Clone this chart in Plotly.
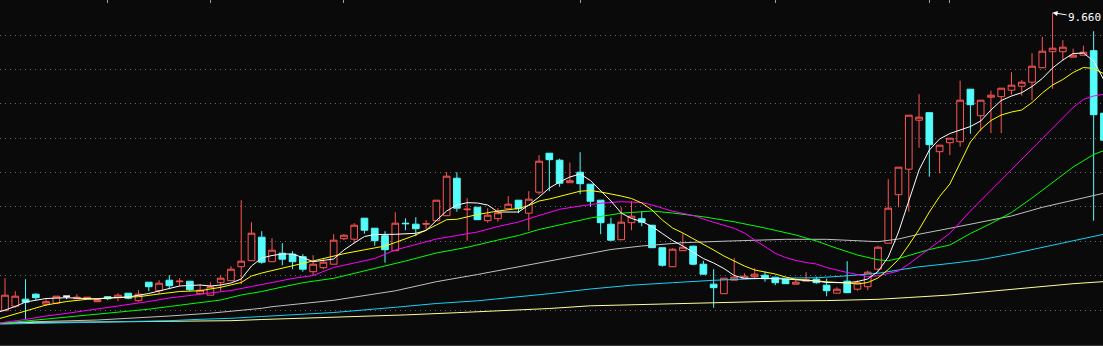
import plotly.graph_objects as go

# ---------------- data ----------------
days = list(range(108))  # trading-day index
opens = [3.70, 3.79, 3.93, 4.03, 3.83, 3.85, 3.99, 3.94, 3.94, 3.88,
         3.98, 3.96, 4.05, 3.90, 4.27, 4.10, 4.31, 4.28, 4.29, 4.04,
         4.01, 4.26, 4.30, 4.58, 4.70, 5.17, 4.68, 4.85, 4.83, 4.78,
         4.48, 4.56, 4.63, 5.14, 5.13, 5.55, 5.35, 5.20, 4.90, 5.45,
         5.43, 5.43, 5.50, 5.60, 6.35, 5.72, 5.77, 5.50, 5.54, 5.74,
         5.91, 5.65, 6.07, 6.85, 6.71, 6.26, 6.47, 6.23, 5.91, 5.43,
         5.12, 5.46, 5.54, 5.41, 4.96, 4.58, 4.90, 4.99, 4.63, 4.23,
         4.04, 4.31, 4.34, 4.38, 4.41, 4.37, 4.33, 4.23, 4.29, 4.33,
         4.21, 4.05, 4.29, 4.13, 4.18, 4.53, 5.05, 6.02, 6.53, 7.51,
         7.66, 6.88, 7.06, 7.08, 8.13, 7.60, 7.97, 7.98, 8.11, 8.19,
         8.27, 8.56, 8.88, 8.88, 8.77, 8.81, 8.90, 7.65]
highs = [4.35, 4.09, 4.33, 4.05, 3.93, 3.99, 3.99, 4.03, 3.97, 3.94,
         3.99, 4.05, 4.05, 4.11, 4.27, 4.31, 4.41, 4.35, 4.29, 4.23,
         4.27, 4.41, 4.59, 5.91, 5.47, 5.29, 5.15, 5.05, 4.89, 4.83,
         4.81, 4.73, 5.23, 5.23, 5.45, 5.55, 5.35, 5.29, 5.67, 5.55,
         5.57, 5.51, 5.91, 6.47, 6.47, 5.95, 5.77, 5.75, 5.75, 5.99,
         5.91, 6.09, 6.81, 6.85, 6.74, 6.66, 6.87, 6.23, 5.91, 5.56,
         5.77, 5.89, 5.69, 5.41, 4.96, 4.95, 5.25, 5.00, 4.70, 4.53,
         4.35, 4.75, 4.45, 4.55, 4.48, 4.37, 4.33, 4.31, 4.47, 4.38,
         4.34, 4.17, 4.69, 4.31, 4.50, 5.00, 6.33, 6.57, 7.61, 8.03,
         7.66, 7.01, 7.15, 8.30, 8.13, 7.91, 8.10, 8.15, 8.47, 8.31,
         8.85, 9.18, 9.66, 9.11, 8.94, 9.00, 9.29, 7.65]
lows = [3.70, 3.76, 3.53, 3.91, 3.79, 3.85, 3.93, 3.94, 3.94, 3.87,
        3.91, 3.89, 3.93, 3.88, 4.09, 4.03, 4.13, 4.19, 4.09, 4.04,
        4.01, 4.09, 4.30, 4.23, 4.70, 4.64, 4.68, 4.61, 4.53, 4.48,
        4.41, 4.53, 4.63, 5.11, 5.05, 5.24, 5.00, 4.66, 4.90, 5.31,
        5.19, 5.33, 5.50, 5.60, 5.68, 5.10, 5.52, 5.46, 5.48, 5.74,
        5.65, 5.30, 6.02, 6.09, 6.18, 6.26, 6.03, 5.78, 5.23, 5.10,
        5.12, 5.31, 5.39, 4.96, 4.58, 4.58, 4.90, 4.61, 4.43, 3.76,
        4.04, 4.31, 4.34, 4.33, 4.28, 4.21, 4.24, 4.23, 4.29, 4.24,
        3.99, 4.05, 4.06, 4.10, 4.11, 4.47, 5.05, 5.77, 5.68, 6.96,
        6.38, 6.45, 6.81, 6.98, 7.24, 7.29, 7.25, 7.25, 8.02, 8.00,
        7.91, 8.55, 8.14, 8.70, 8.77, 8.81, 5.50, 7.11]
closes = [4.01, 3.99, 3.87, 3.96, 3.88, 3.99, 3.99, 3.97, 3.97, 3.92,
          3.94, 4.01, 3.95, 4.03, 4.18, 4.25, 4.20, 4.29, 4.12, 4.11,
          4.18, 4.35, 4.53, 4.69, 5.25, 4.67, 4.91, 4.73, 4.68, 4.53,
          4.63, 4.67, 5.11, 5.21, 5.41, 5.31, 5.10, 4.92, 5.45, 5.44,
          5.34, 5.44, 5.91, 6.39, 5.75, 5.73, 5.52, 5.61, 5.66, 5.83,
          5.74, 5.93, 6.69, 6.72, 6.25, 6.30, 6.24, 5.89, 5.46, 5.11,
          5.47, 5.59, 5.47, 4.96, 4.61, 4.93, 4.97, 4.63, 4.43, 4.16,
          4.35, 4.37, 4.39, 4.43, 4.34, 4.26, 4.24, 4.27, 4.32, 4.26,
          4.10, 4.13, 4.06, 4.26, 4.47, 4.97, 5.75, 6.57, 7.61, 7.57,
          7.02, 7.01, 7.15, 7.91, 7.82, 7.91, 8.01, 8.15, 8.21, 8.27,
          8.59, 8.89, 8.95, 8.97, 8.81, 8.87, 7.62, 7.11]

# moving-average lines, (day index, value)
ma5_pts = [(-1, 3.644), (0, 3.714), (1, 3.784), (2, 3.874), (3, 3.914), (4, 3.944),
           (6, 3.960), (9, 3.934), (10, 3.954), (12, 3.974), (14, 4.044), (16, 4.134),
           (17, 4.194), (19, 4.214), (20, 4.194), (21, 4.214), (22, 4.254), (23, 4.334),
           (24, 4.594), (25, 4.754), (26, 4.804), (27, 4.834), (28, 4.834), (29, 4.764),
           (30, 4.680), (32, 4.734), (33, 4.914), (34, 5.054), (35, 5.184), (36, 5.224),
           (38, 5.228), (40, 5.248), (41, 5.304), (42, 5.504), (43, 5.694), (44, 5.814),
           (45, 5.860), (46, 5.854), (47, 5.814), (48, 5.674), (50, 5.674), (51, 5.814),
           (52, 5.974), (53, 6.154), (54, 6.274), (55, 6.374), (56, 6.434), (57, 6.304),
           (58, 6.104), (59, 5.894), (60, 5.654), (61, 5.544), (62, 5.484), (63, 5.384),
           (64, 5.244), (65, 5.104), (66, 4.994), (67, 4.864), (68, 4.744), (69, 4.654),
           (70, 4.544), (71, 4.404), (72, 4.348), (74, 4.344), (76, 4.334), (78, 4.304),
           (79, 4.294), (80, 4.264), (82, 4.260), (83, 4.284), (84, 4.334), (85, 4.484),
           (86, 4.774), (87, 5.274), (88, 5.874), (89, 6.514), (90, 6.914), (91, 7.134),
           (92, 7.244), (93, 7.314), (94, 7.384), (95, 7.494), (96, 7.714), (97, 7.904),
           (98, 7.994), (99, 8.060), (100, 8.184), (101, 8.344), (102, 8.554), (103, 8.714),
           (104, 8.844), (105, 8.854), (106, 8.694), (107, 8.314)]
ma10_pts = [(-1, 3.514), (0, 3.574), (1, 3.634), (2, 3.694), (4, 3.814), (6, 3.884),
            (8, 3.928), (10, 3.954), (13, 3.980), (15, 4.034), (17, 4.084), (19, 4.100),
            (21, 4.168), (23, 4.264), (24, 4.394), (25, 4.454), (26, 4.504), (28, 4.594),
            (30, 4.694), (33, 4.840), (35, 4.918), (37, 4.994), (38, 5.064), (40, 5.214),
            (42, 5.414), (43, 5.520), (44, 5.528), (46, 5.624), (48, 5.694), (50, 5.744),
            (51, 5.804), (52, 5.894), (53, 5.934), (55, 6.044), (56, 6.090), (57, 6.104),
            (58, 6.074), (60, 5.994), (61, 5.944), (62, 5.854), (63, 5.714), (64, 5.514),
            (65, 5.354), (66, 5.254), (67, 5.144), (68, 5.024), (69, 4.914), (70, 4.794),
            (71, 4.694), (72, 4.594), (73, 4.514), (74, 4.474), (75, 4.434), (76, 4.374),
            (77, 4.328), (78, 4.314), (79, 4.294), (80, 4.278), (82, 4.254), (83, 4.234),
            (84, 4.264), (85, 4.354), (86, 4.524), (87, 4.724), (88, 5.014), (89, 5.324),
            (90, 5.674), (91, 5.984), (92, 6.234), (93, 6.650), (94, 7.074), (95, 7.324),
            (96, 7.504), (97, 7.614), (98, 7.674), (99, 7.714), (100, 7.864), (101, 8.054),
            (102, 8.214), (103, 8.324), (104, 8.464), (105, 8.564), (106, 8.544), (107, 8.438)]
ma20_pts = [(-1, 3.424), (0, 3.470), (2, 3.524), (4, 3.594), (6, 3.646), (8, 3.704),
            (10, 3.764), (12, 3.814), (14, 3.884), (16, 3.954), (18, 4.004), (20, 4.044),
            (22, 4.104), (24, 4.184), (26, 4.264), (28, 4.344), (30, 4.404), (32, 4.564),
            (34, 4.654), (36, 4.744), (38, 4.914), (40, 5.024), (42, 5.134), (44, 5.204),
            (46, 5.274), (48, 5.384), (50, 5.474), (52, 5.604), (54, 5.728), (56, 5.794),
            (58, 5.850), (60, 5.880), (62, 5.864), (63, 5.814), (64, 5.754), (65, 5.690),
            (67, 5.604), (69, 5.468), (71, 5.348), (72, 5.254), (73, 5.114), (74, 4.974),
            (75, 4.848), (76, 4.764), (77, 4.704), (78, 4.664), (79, 4.634), (80, 4.564),
            (82, 4.464), (84, 4.384), (85, 4.398), (86, 4.444), (87, 4.494), (88, 4.634),
            (89, 4.784), (90, 4.934), (91, 5.094), (92, 5.248), (94, 5.694), (96, 6.104),
            (98, 6.514), (100, 6.924), (102, 7.344), (104, 7.764), (105, 7.924), (106, 7.994),
            (107, 8.030)]
ma30_pts = [(-1, 3.434), (0, 3.454), (1, 3.470), (4, 3.526), (6, 3.568), (9, 3.620),
            (11, 3.664), (14, 3.730), (16, 3.784), (19, 3.860), (21, 3.914), (23, 4.014),
            (25, 4.084), (27, 4.174), (29, 4.260), (32, 4.348), (36, 4.544), (39, 4.694),
            (42, 4.854), (45, 4.968), (48, 5.114), (50, 5.204), (52, 5.324), (54, 5.414),
            (57, 5.554), (60, 5.650), (62, 5.688), (63, 5.694), (65, 5.654), (68, 5.578),
            (71, 5.478), (74, 5.354), (77, 5.214), (79, 5.094), (81, 4.948), (83, 4.814),
            (85, 4.718), (86, 4.700), (87, 4.744), (88, 4.808), (90, 4.924), (92, 5.014),
            (94, 5.244), (96, 5.444), (98, 5.664), (100, 5.954), (102, 6.264), (104, 6.574),
            (106, 6.824), (107, 6.904)]
ma60_pts = [(-1, 3.444), (0, 3.454), (3, 3.480), (9, 3.514), (12, 3.544), (16, 3.594),
            (20, 3.650), (23, 3.700), (25, 3.748), (26, 3.780), (32, 3.908), (38, 4.098),
            (42, 4.280), (46, 4.424), (50, 4.580), (53, 4.684), (56, 4.804), (59, 4.924),
            (62, 4.994), (66, 5.060), (70, 5.090), (76, 5.128), (80, 5.128), (83, 5.104),
            (85, 5.080), (87, 5.134), (89, 5.230), (92, 5.348), (95, 5.468), (98, 5.594),
            (101, 5.768), (104, 5.904), (107, 6.050)]
ma120_pts = [(-1, 3.430), (0, 3.434), (5, 3.448), (9, 3.462), (12, 3.478), (16, 3.500),
             (19, 3.528), (22, 3.548), (25, 3.584), (28, 3.618), (32, 3.664), (38, 3.768),
             (42, 3.844), (46, 3.898), (50, 3.974), (53, 4.040), (57, 4.134), (61, 4.210),
             (65, 4.260), (69, 4.308), (74, 4.348), (79, 4.358), (82, 4.398), (85, 4.448),
             (87, 4.514), (89, 4.578), (92, 4.644), (95, 4.720), (98, 4.834), (101, 4.970),
             (104, 5.108), (107, 5.230)]
ma250_pts = [(-1, 3.444), (0, 3.450), (3, 3.468), (9, 3.474), (15, 3.482), (22, 3.500),
             (25, 3.524), (27, 3.536), (32, 3.566), (39, 3.616), (44, 3.660), (49, 3.704),
             (53, 3.744), (57, 3.798), (61, 3.820), (66, 3.848), (69, 3.862), (76, 3.894),
             (80, 3.902), (85, 3.928), (88, 3.964), (92, 4.014), (95, 4.070), (98, 4.128),
             (101, 4.188), (104, 4.240), (107, 4.282)]

grid_levels = [3.714, 4.4015, 5.089, 5.7765, 6.464, 7.1515, 7.839, 8.5265, 9.214]
top_ticks = [10, 20, 33, 56, 75, 90, 92]
peak_day, peak_label = 102, "9.660"

# ---------------- styling ----------------
BG = "#0a0a0a"
RED = "#ff5555"
CYAN = "#54fcfc"

fig = go.Figure()

norm = [i for i in days if opens[i] != closes[i]]
flat = [i for i in days if opens[i] == closes[i]]

fig.add_trace(go.Candlestick(
    x=[days[i] for i in norm],
    open=[opens[i] for i in norm], high=[highs[i] for i in norm],
    low=[lows[i] for i in norm], close=[closes[i] for i in norm],
    increasing=dict(line=dict(color=RED, width=1), fillcolor=BG),
    decreasing=dict(line=dict(color=CYAN, width=1), fillcolor=CYAN),
    whiskerwidth=0, showlegend=False, hoverinfo="skip"))
fig.add_trace(go.Candlestick(
    x=[days[i] for i in flat],
    open=[opens[i] for i in flat], high=[highs[i] for i in flat],
    low=[lows[i] for i in flat], close=[closes[i] for i in flat],
    increasing=dict(line=dict(color="#ffffff", width=1), fillcolor="#ffffff"),
    decreasing=dict(line=dict(color="#ffffff", width=1), fillcolor="#ffffff"),
    whiskerwidth=0, showlegend=False, hoverinfo="skip"))

lines = [(ma250_pts, "#ffff99"), (ma120_pts, "#18d0f8"), (ma60_pts, "#c0c0c0"),
         (ma30_pts, "#00ff00"), (ma20_pts, "#ff00ff"), (ma10_pts, "#ffff00"),
         (ma5_pts, "#ffffff")]
for pts, col in lines:
    fig.add_trace(go.Scatter(x=[p[0] for p in pts], y=[p[1] for p in pts],
                             mode="lines", line=dict(color=col, width=1),
                             showlegend=False, hoverinfo="skip"))

# helper trace so the top tick axis is drawn
fig.add_trace(go.Scatter(x=[], y=[], xaxis="x2", showlegend=False))

fig.add_annotation(x=peak_day, y=highs[peak_day], xref="x", yref="y",
                   text=peak_label, showarrow=True, arrowhead=2, arrowsize=1,
                   arrowwidth=1, arrowcolor="#ffffff", ax=32, ay=5, standoff=0,
                   font=dict(family="DejaVu Sans Mono", size=11, color="#ffffff"))

XR = [-0.487, 106.91]
H = 346
fig.update_layout(
    width=1103, height=H,
    margin=dict(l=0, r=0, t=0, b=1, pad=0),
    paper_bgcolor=BG, plot_bgcolor=BG,
    boxgap=0.35, boxgroupgap=0,
    xaxis=dict(range=XR, showgrid=False, zeroline=False, showticklabels=False,
               rangeslider=dict(visible=False), showline=True,
               linecolor="#3a3a3a", linewidth=2, ticks=""),
    xaxis2=dict(range=XR, overlaying="x", side="top", showgrid=False,
                zeroline=False, showticklabels=False, tickvals=top_ticks,
                ticks="inside", ticklen=3, tickcolor="#a0a0a0", tickwidth=1,
                showline=False),
    yaxis=dict(range=[9.914 - (H - 1) / 50, 9.914], showticklabels=False,
               zeroline=False, tickvals=grid_levels, showgrid=True,
               gridcolor="#6a6a6a", gridwidth=1, griddash="1px,4px", ticks=""),
)

fig.write_html("out.html")
